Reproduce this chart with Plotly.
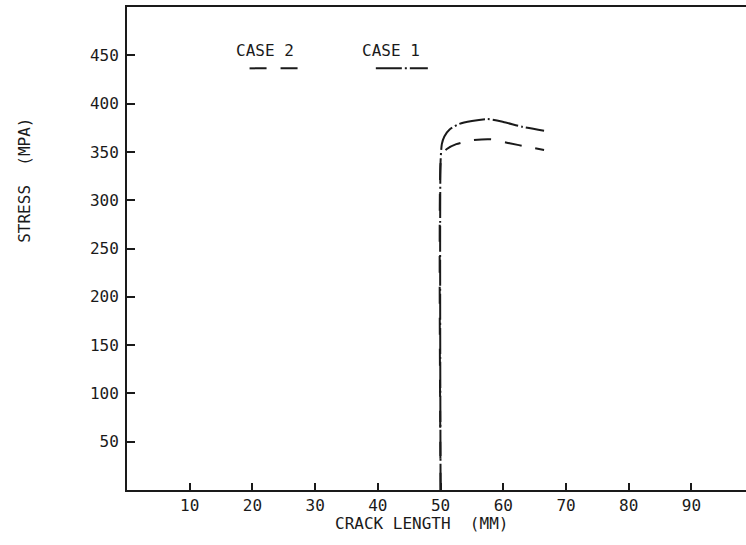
import plotly.graph_objects as go

# Stress vs crack length for the two load cases
case1_x = [50, 50, 50.2, 50.6, 51.4, 53.0, 55.0, 57.5, 60.0, 63.0, 66.5]
case1_y = [0, 340, 358, 366, 373, 379, 382, 384, 381, 376, 372]

case2_x = [50, 50, 50.3, 51.0, 52.5, 55.0, 58.0, 61.0, 64.0, 66.5]
case2_y = [0, 338, 348, 353, 358, 362, 363, 359, 355, 352]

x_ticks = [10, 20, 30, 40, 50, 60, 70, 80, 90]
y_ticks = [50, 100, 150, 200, 250, 300, 350, 400, 450]

FONT = "DejaVu Sans Mono"
INK = "#1a1a1a"
DASH_CASE1 = "26px,3px,2px,3px"
DASH_CASE2 = "17px,14px"

fig = go.Figure()
fig.add_trace(go.Scatter(x=case1_x, y=case1_y, mode="lines", name="CASE 1",
                         line=dict(color=INK, width=2, dash=DASH_CASE1, shape="spline", smoothing=0.6)))
fig.add_trace(go.Scatter(x=case2_x, y=case2_y, mode="lines", name="CASE 2",
                         line=dict(color=INK, width=2, dash=DASH_CASE2, shape="spline", smoothing=0.6)))

axis_common = dict(
    showgrid=False, zeroline=False, showline=True, linecolor=INK, linewidth=2,
    ticks="inside", tickcolor=INK, tickwidth=1.5,
    tickfont=dict(family=FONT, size=16, color=INK),
)

fig.update_xaxes(range=[0, 98.7], tickvals=x_ticks, ticklen=7, mirror=True, **axis_common)
fig.update_yaxes(range=[0, 500], tickvals=y_ticks, ticklen=8, mirror=False,
                 ticklabelstandoff=3, **axis_common)

# Axis titles
fig.add_annotation(text="CRACK LENGTH  (MM)", xref="paper", yref="paper", x=0.476, y=-0.069,
                   xanchor="center", yanchor="middle", showarrow=False,
                   font=dict(family=FONT, size=16, color=INK))
fig.add_annotation(text="STRESS  (MPA)", xref="paper", yref="paper", x=-0.165, y=0.642,
                   xanchor="center", yanchor="middle", textangle=-90, showarrow=False,
                   font=dict(family=FONT, size=16, color=INK))

# Legend: labels with line samples beneath
legend_items = [("CASE 2", DASH_CASE2, 0.198, 0.278), ("CASE 1", DASH_CASE1, 0.402, 0.486)]
label_centers = {"CASE 2": 0.223, "CASE 1": 0.426}
for label, dash, x0, x1 in legend_items:
    fig.add_annotation(text=label, xref="paper", yref="paper", x=label_centers[label], y=0.910,
                       xanchor="center", yanchor="middle", showarrow=False,
                       font=dict(family=FONT, size=16, color=INK))
    fig.add_shape(type="line", xref="paper", yref="paper", x0=x0, x1=x1, y0=0.873, y1=0.873,
                  line=dict(color=INK, width=2, dash=dash))

fig.update_layout(
    width=746, height=545,
    margin=dict(l=127, r=0, t=7, b=55),
    paper_bgcolor="white", plot_bgcolor="white",
    showlegend=False,
)

fig.write_html("out.html")
